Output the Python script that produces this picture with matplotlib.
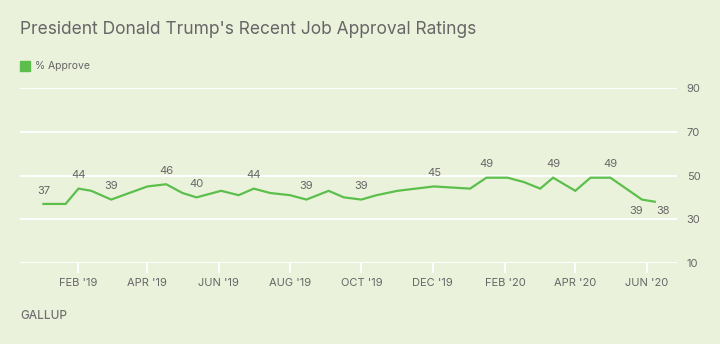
import matplotlib
matplotlib.use("Agg")
import matplotlib.pyplot as plt
import matplotlib.dates as mdates
import pandas as pd

plt.rcParams['font.family'] = ['Inter', 'DejaVu Sans']

# Gallup approval readings (field start dates)
dates = ['2019-01-02', '2019-01-21', '2019-02-01', '2019-02-12', '2019-03-01',
         '2019-04-01', '2019-04-17', '2019-05-01', '2019-05-13', '2019-06-03',
         '2019-06-18', '2019-07-01', '2019-07-15', '2019-08-01', '2019-08-15',
         '2019-09-03', '2019-09-16', '2019-10-01', '2019-10-14', '2019-11-01',
         '2019-12-02', '2020-01-02', '2020-01-16', '2020-02-03', '2020-02-17',
         '2020-03-02', '2020-03-13', '2020-04-01', '2020-04-14', '2020-05-01',
         '2020-05-28', '2020-06-08']
approve = [37, 37, 44, 43, 39,
           45, 46, 42, 40, 43,
           41, 44, 42, 41, 39,
           43, 40, 39, 41, 43,
           45, 44, 49, 49, 47,
           44, 49, 43, 49, 49,
           39, 38]

# which points get a number, and where it goes
labels_above = ['2019-01-02', '2019-02-01', '2019-03-01', '2019-04-17', '2019-05-13',
                '2019-07-01', '2019-08-15', '2019-10-01', '2019-12-02', '2020-01-16',
                '2020-03-13', '2020-05-01']
labels_below = {'2020-05-28': (-4.5, -8), '2020-06-08': (6, -7)}

yticks = [10, 30, 50, 70, 90]

bg = '#ebf2dc'
green = '#5cbf4c'
txt = '#666666'

x = pd.to_datetime(dates)

fig = plt.figure(figsize=(7.2, 3.44), dpi=100, facecolor=bg)
ax = fig.add_axes([20/720, 1 - 263/344, (677 - 20)/720, (263 - 88)/344])
ax.set_facecolor(bg)

for yv in yticks:
    ax.axhline(yv, color='white', lw=1.4, zorder=1)

ax.plot(x, approve, color=green, lw=1.6, zorder=3, solid_joinstyle='miter')

for d, v in zip(x, approve):
    key = d.strftime('%Y-%m-%d')
    if key in labels_above:
        ax.annotate(str(v), (d, v), xytext=(0, 6), textcoords='offset points',
                    ha='center', va='bottom', fontsize=8, color=txt)
    elif key in labels_below:
        ax.annotate(str(v), (d, v), xytext=labels_below[key], textcoords='offset points',
                    ha='center', va='center', fontsize=8, color=txt)

ax.set_ylim(10, 90)
ax.set_xlim(pd.Timestamp('2018-12-13'), pd.Timestamp('2020-06-27'))

ax.yaxis.tick_right()
ax.set_yticks(yticks)
ax.tick_params(axis='y', length=0, pad=7, labelsize=8, labelcolor=txt)

# month ticks every two months, labels like "FEB '19"
ax.xaxis.set_major_locator(mdates.MonthLocator(bymonth=[2, 4, 6, 8, 10, 12]))
ax.xaxis.set_major_formatter(plt.FuncFormatter(
    lambda v, pos: mdates.num2date(v).strftime("%b '%y").upper()))
ax.tick_params(axis='x', length=7, width=1.4, color='white', pad=4,
               labelsize=8, labelcolor=txt)

for s in ax.spines.values():
    s.set_visible(False)

fig.text(20/720, 1 - 34/344, "President Donald Trump's Recent Job Approval Ratings",
         fontsize=12.5, color=txt, va='baseline', ha='left')

fig.patches.append(plt.Rectangle((20/720, 1 - 71/344), 10/720, 10/344,
                                 transform=fig.transFigure, color=green))
fig.text(35/720, 1 - 66/344, '% Approve', fontsize=7.5, color=txt, va='center', ha='left')

fig.text(20/720, 1 - 316/344, 'GALLUP', fontsize=8.5, color='#707070', va='center',
         ha='left', fontweight='medium')

fig.savefig('out.png', dpi=100, facecolor=bg)
